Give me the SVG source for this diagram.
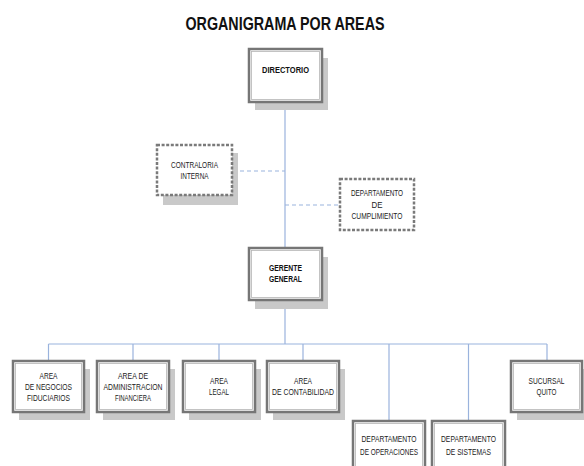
<svg xmlns="http://www.w3.org/2000/svg" width="584" height="466" viewBox="0 0 584 466">
<style>
.bg{fill:#ffffff}
.sh{fill:#c9c9c9}
.box{fill:#ffffff;stroke:#767676;stroke-width:2.5}
.inner{fill:none;stroke:#b5b5b5;stroke-width:0.8}
.dbox{fill:#ffffff;stroke:#7a7a7a;stroke-width:2.5;stroke-dasharray:3 1.6}
.ln{stroke:#9ab3dd;stroke-width:1.2;fill:none}
.dl{stroke:#9ab3dd;stroke-width:1.2;fill:none;stroke-dasharray:4 3}
.t{font-family:"Liberation Sans",Arial,sans-serif;font-size:9.5px;fill:#222;text-anchor:middle}
.tb{font-family:"Liberation Sans",Arial,sans-serif;font-size:8.5px;font-weight:bold;fill:#111;text-anchor:middle}
.title{font-family:"Liberation Sans",Arial,sans-serif;font-size:18px;font-weight:bold;fill:#111;text-anchor:middle}
</style>
<rect class="bg" x="0" y="0" width="584" height="466"/>
<text class="title" x="285" y="30" textLength="199" lengthAdjust="spacingAndGlyphs">ORGANIGRAMA POR AREAS</text>

<g id="connectors">
<line class="ln" x1="285" y1="102" x2="285" y2="248"/>
<line class="dl" x1="233" y1="171" x2="285" y2="171"/>
<line class="dl" x1="285" y1="205" x2="340" y2="205"/>
<line class="ln" x1="285" y1="300" x2="285" y2="344"/>
<line class="ln" x1="48.5" y1="344" x2="547" y2="344"/>
<line class="ln" x1="48.5" y1="344" x2="48.5" y2="361"/>
<line class="ln" x1="133" y1="344" x2="133" y2="361"/>
<line class="ln" x1="219" y1="344" x2="219" y2="361"/>
<line class="ln" x1="303" y1="344" x2="303" y2="361"/>
<line class="ln" x1="389" y1="344" x2="389" y2="421"/>
<line class="ln" x1="468.5" y1="344" x2="468.5" y2="421"/>
<line class="ln" x1="547" y1="344" x2="547" y2="361"/>
</g>

<g id="directorio">
<rect class="sh" x="255" y="58" width="73" height="52"/>
<rect class="box" x="249" y="49" width="73" height="53"/>
<rect class="inner" x="251.5" y="51.5" width="68" height="48"/>
<text class="tb" x="285.5" y="73" textLength="47" lengthAdjust="spacingAndGlyphs">DIRECTORIO</text>
</g>

<g id="contraloria">
<rect class="sh" x="163" y="153" width="75" height="52"/>
<rect class="dbox" x="157" y="145" width="75" height="50"/>
<text class="t" x="194.5" y="168" textLength="47" lengthAdjust="spacingAndGlyphs">CONTRALORIA</text>
<text class="t" x="194.5" y="179" textLength="28" lengthAdjust="spacingAndGlyphs">INTERNA</text>
</g>

<g id="cumplimiento">
<rect class="dbox" x="340" y="179" width="74" height="51"/>
<text class="t" x="377" y="196" textLength="52" lengthAdjust="spacingAndGlyphs">DEPARTAMENTO</text>
<text class="t" x="377" y="207.5" textLength="11" lengthAdjust="spacingAndGlyphs">DE</text>
<text class="t" x="377" y="219" textLength="51" lengthAdjust="spacingAndGlyphs">CUMPLIMIENTO</text>
</g>

<g id="gerente">
<rect class="sh" x="255" y="257" width="73" height="52"/>
<rect class="box" x="249" y="248" width="73" height="52"/>
<rect class="inner" x="251.5" y="250.5" width="68" height="47"/>
<text class="tb" x="285.5" y="271" textLength="33" lengthAdjust="spacingAndGlyphs">GERENTE</text>
<text class="tb" x="285.5" y="282" textLength="33" lengthAdjust="spacingAndGlyphs">GENERAL</text>
</g>

<g id="negocios">
<rect class="sh" x="19" y="369" width="71" height="51"/>
<rect class="box" x="13" y="361" width="71" height="51"/>
<rect class="inner" x="15.5" y="363.5" width="66" height="46"/>
<text class="t" x="48.5" y="378.5" textLength="18" lengthAdjust="spacingAndGlyphs">AREA</text>
<text class="t" x="48.5" y="389.5" textLength="47" lengthAdjust="spacingAndGlyphs">DE NEGOCIOS</text>
<text class="t" x="48.5" y="400.5" textLength="43" lengthAdjust="spacingAndGlyphs">FIDUCIARIOS</text>
</g>

<g id="administracion">
<rect class="sh" x="103" y="369" width="72" height="51"/>
<rect class="box" x="97" y="361" width="72" height="51"/>
<rect class="inner" x="99.5" y="363.5" width="67" height="46"/>
<text class="t" x="133" y="378.5" textLength="30" lengthAdjust="spacingAndGlyphs">AREA DE</text>
<text class="t" x="133" y="389.5" textLength="59" lengthAdjust="spacingAndGlyphs">ADMINISTRACION</text>
<text class="t" x="133" y="400.5" textLength="36" lengthAdjust="spacingAndGlyphs">FINANCIERA</text>
</g>

<g id="legal">
<rect class="sh" x="189" y="369" width="72" height="51"/>
<rect class="box" x="183" y="361" width="72" height="51"/>
<rect class="inner" x="185.5" y="363.5" width="67" height="46"/>
<text class="t" x="219" y="383.5" textLength="18" lengthAdjust="spacingAndGlyphs">AREA</text>
<text class="t" x="219" y="394.5" textLength="20" lengthAdjust="spacingAndGlyphs">LEGAL</text>
</g>

<g id="contabilidad">
<rect class="sh" x="273" y="369" width="72" height="51"/>
<rect class="box" x="267" y="361" width="72" height="51"/>
<rect class="inner" x="269.5" y="363.5" width="67" height="46"/>
<text class="t" x="303" y="383.5" textLength="18" lengthAdjust="spacingAndGlyphs">AREA</text>
<text class="t" x="303" y="395" textLength="62" lengthAdjust="spacingAndGlyphs">DE CONTABILIDAD</text>
</g>

<g id="sucursal">
<rect class="sh" x="517" y="369" width="72" height="51"/>
<rect class="box" x="511" y="361" width="71" height="51"/>
<rect class="inner" x="513.5" y="363.5" width="66" height="46"/>
<text class="t" x="546.5" y="383.5" textLength="36" lengthAdjust="spacingAndGlyphs">SUCURSAL</text>
<text class="t" x="546.5" y="395" textLength="20" lengthAdjust="spacingAndGlyphs">QUITO</text>
</g>

<g id="operaciones">
<rect class="box" x="353" y="421" width="72" height="52"/>
<rect class="inner" x="355.5" y="423.5" width="67" height="47"/>
<text class="t" x="389" y="442" textLength="55" lengthAdjust="spacingAndGlyphs">DEPARTAMENTO</text>
<text class="t" x="389" y="455" textLength="58" lengthAdjust="spacingAndGlyphs">DE OPERACIONES</text>
</g>

<g id="sistemas">
<rect class="box" x="432" y="421" width="73" height="52"/>
<rect class="inner" x="434.5" y="423.5" width="68" height="47"/>
<text class="t" x="468.5" y="442" textLength="55" lengthAdjust="spacingAndGlyphs">DEPARTAMENTO</text>
<text class="t" x="468.5" y="455" textLength="45" lengthAdjust="spacingAndGlyphs">DE SISTEMAS</text>
</g>
</svg>
